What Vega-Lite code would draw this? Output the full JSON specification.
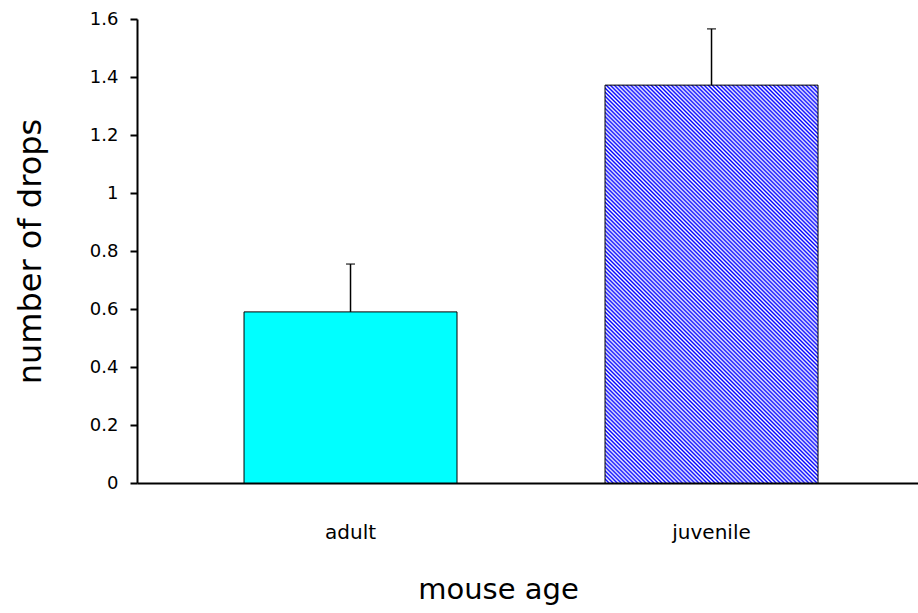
{
  "$schema": "https://vega.github.io/schema/vega-lite/v6.json",
  "width": 781,
  "height": 464,
  "autosize": {"type": "none"},
  "padding": {"left": 137, "top": 19, "right": 0, "bottom": 130},
  "background": "white",
  "config": {"view": {"stroke": null}, "font": "DejaVu Sans"},
  "data": {"values": [
    {"age": "adult", "mean": 0.59, "upper": 0.755},
    {"age": "juvenile", "mean": 1.372, "upper": 1.566}
  ]},
  "encoding": {
    "x": {
      "field": "age", "type": "nominal", "sort": null,
      "scale": {"paddingInner": 0.41, "paddingOuter": 0.2867, "align": 0.517},
      "axis": {
        "title": "mouse age", "labelAngle": 0, "ticks": false, "tickSize": 0,
        "labelPadding": 39, "labelFontSize": 20, "labelColor": "black",
        "titleFontSize": 29, "titleFontWeight": "normal", "titleColor": "black",
        "titlePadding": 33, "titleX": 361,
        "domainColor": "black", "domainWidth": 2, "grid": false
      }
    }
  },
  "layer": [
    {
      "mark": {"type": "bar", "stroke": "black", "strokeWidth": 1},
      "encoding": {
        "y": {
          "field": "mean", "type": "quantitative",
          "scale": {"domain": [0, 1.6], "nice": false},
          "axis": {
            "title": "number of drops",
            "values": [0, 0.2, 0.4, 0.6, 0.8, 1, 1.2, 1.4, 1.6],
            "format": "~g", "grid": false,
            "domainColor": "black", "domainWidth": 2,
            "tickColor": "black", "tickWidth": 2, "tickSize": 7,
            "labelPadding": 12, "labelFontSize": 18, "labelColor": "black",
            "titleFontSize": 32, "titleFontWeight": "normal", "titleColor": "black",
            "titlePadding": 42
          }
        },
        "fill": {
          "condition": {
            "test": "datum.age === 'juvenile'",
            "value": {
              "gradient": "linear", "x1": 0, "y1": 1, "x2": 0.6387, "y2": -0.1934,
              "stops": [
{"offset":0,"color":"#00f"},{"offset":0.0033,"color":"#fff"},{"offset":0.0067,"color":"#00f"},{"offset":0.01,"color":"#fff"},{"offset":0.0133,"color":"#00f"},{"offset":0.0167,"color":"#fff"},
{"offset":0.02,"color":"#00f"},{"offset":0.0233,"color":"#fff"},{"offset":0.0267,"color":"#00f"},{"offset":0.03,"color":"#fff"},{"offset":0.0333,"color":"#00f"},{"offset":0.0367,"color":"#fff"},
{"offset":0.04,"color":"#00f"},{"offset":0.0433,"color":"#fff"},{"offset":0.0467,"color":"#00f"},{"offset":0.05,"color":"#fff"},{"offset":0.0533,"color":"#00f"},{"offset":0.0567,"color":"#fff"},
{"offset":0.06,"color":"#00f"},{"offset":0.0633,"color":"#fff"},{"offset":0.0667,"color":"#00f"},{"offset":0.07,"color":"#fff"},{"offset":0.0733,"color":"#00f"},{"offset":0.0767,"color":"#fff"},
{"offset":0.08,"color":"#00f"},{"offset":0.0833,"color":"#fff"},{"offset":0.0867,"color":"#00f"},{"offset":0.09,"color":"#fff"},{"offset":0.0933,"color":"#00f"},{"offset":0.0967,"color":"#fff"},
{"offset":0.10,"color":"#00f"},{"offset":0.1033,"color":"#fff"},{"offset":0.1067,"color":"#00f"},{"offset":0.11,"color":"#fff"},{"offset":0.1133,"color":"#00f"},{"offset":0.1167,"color":"#fff"},
{"offset":0.12,"color":"#00f"},{"offset":0.1233,"color":"#fff"},{"offset":0.1267,"color":"#00f"},{"offset":0.13,"color":"#fff"},{"offset":0.1333,"color":"#00f"},{"offset":0.1367,"color":"#fff"},
{"offset":0.14,"color":"#00f"},{"offset":0.1433,"color":"#fff"},{"offset":0.1467,"color":"#00f"},{"offset":0.15,"color":"#fff"},{"offset":0.1533,"color":"#00f"},{"offset":0.1567,"color":"#fff"},
{"offset":0.16,"color":"#00f"},{"offset":0.1633,"color":"#fff"},{"offset":0.1667,"color":"#00f"},{"offset":0.17,"color":"#fff"},{"offset":0.1733,"color":"#00f"},{"offset":0.1767,"color":"#fff"},
{"offset":0.18,"color":"#00f"},{"offset":0.1833,"color":"#fff"},{"offset":0.1867,"color":"#00f"},{"offset":0.19,"color":"#fff"},{"offset":0.1933,"color":"#00f"},{"offset":0.1967,"color":"#fff"},
{"offset":0.20,"color":"#00f"},{"offset":0.2033,"color":"#fff"},{"offset":0.2067,"color":"#00f"},{"offset":0.21,"color":"#fff"},{"offset":0.2133,"color":"#00f"},{"offset":0.2167,"color":"#fff"},
{"offset":0.22,"color":"#00f"},{"offset":0.2233,"color":"#fff"},{"offset":0.2267,"color":"#00f"},{"offset":0.23,"color":"#fff"},{"offset":0.2333,"color":"#00f"},{"offset":0.2367,"color":"#fff"},
{"offset":0.24,"color":"#00f"},{"offset":0.2433,"color":"#fff"},{"offset":0.2467,"color":"#00f"},{"offset":0.25,"color":"#fff"},{"offset":0.2533,"color":"#00f"},{"offset":0.2567,"color":"#fff"},
{"offset":0.26,"color":"#00f"},{"offset":0.2633,"color":"#fff"},{"offset":0.2667,"color":"#00f"},{"offset":0.27,"color":"#fff"},{"offset":0.2733,"color":"#00f"},{"offset":0.2767,"color":"#fff"},
{"offset":0.28,"color":"#00f"},{"offset":0.2833,"color":"#fff"},{"offset":0.2867,"color":"#00f"},{"offset":0.29,"color":"#fff"},{"offset":0.2933,"color":"#00f"},{"offset":0.2967,"color":"#fff"},
{"offset":0.30,"color":"#00f"},{"offset":0.3033,"color":"#fff"},{"offset":0.3067,"color":"#00f"},{"offset":0.31,"color":"#fff"},{"offset":0.3133,"color":"#00f"},{"offset":0.3167,"color":"#fff"},
{"offset":0.32,"color":"#00f"},{"offset":0.3233,"color":"#fff"},{"offset":0.3267,"color":"#00f"},{"offset":0.33,"color":"#fff"},{"offset":0.3333,"color":"#00f"},{"offset":0.3367,"color":"#fff"},
{"offset":0.34,"color":"#00f"},{"offset":0.3433,"color":"#fff"},{"offset":0.3467,"color":"#00f"},{"offset":0.35,"color":"#fff"},{"offset":0.3533,"color":"#00f"},{"offset":0.3567,"color":"#fff"},
{"offset":0.36,"color":"#00f"},{"offset":0.3633,"color":"#fff"},{"offset":0.3667,"color":"#00f"},{"offset":0.37,"color":"#fff"},{"offset":0.3733,"color":"#00f"},{"offset":0.3767,"color":"#fff"},
{"offset":0.38,"color":"#00f"},{"offset":0.3833,"color":"#fff"},{"offset":0.3867,"color":"#00f"},{"offset":0.39,"color":"#fff"},{"offset":0.3933,"color":"#00f"},{"offset":0.3967,"color":"#fff"},
{"offset":0.40,"color":"#00f"},{"offset":0.4033,"color":"#fff"},{"offset":0.4067,"color":"#00f"},{"offset":0.41,"color":"#fff"},{"offset":0.4133,"color":"#00f"},{"offset":0.4167,"color":"#fff"},
{"offset":0.42,"color":"#00f"},{"offset":0.4233,"color":"#fff"},{"offset":0.4267,"color":"#00f"},{"offset":0.43,"color":"#fff"},{"offset":0.4333,"color":"#00f"},{"offset":0.4367,"color":"#fff"},
{"offset":0.44,"color":"#00f"},{"offset":0.4433,"color":"#fff"},{"offset":0.4467,"color":"#00f"},{"offset":0.45,"color":"#fff"},{"offset":0.4533,"color":"#00f"},{"offset":0.4567,"color":"#fff"},
{"offset":0.46,"color":"#00f"},{"offset":0.4633,"color":"#fff"},{"offset":0.4667,"color":"#00f"},{"offset":0.47,"color":"#fff"},{"offset":0.4733,"color":"#00f"},{"offset":0.4767,"color":"#fff"},
{"offset":0.48,"color":"#00f"},{"offset":0.4833,"color":"#fff"},{"offset":0.4867,"color":"#00f"},{"offset":0.49,"color":"#fff"},{"offset":0.4933,"color":"#00f"},{"offset":0.4967,"color":"#fff"},
{"offset":0.50,"color":"#00f"},{"offset":0.5033,"color":"#fff"},{"offset":0.5067,"color":"#00f"},{"offset":0.51,"color":"#fff"},{"offset":0.5133,"color":"#00f"},{"offset":0.5167,"color":"#fff"},
{"offset":0.52,"color":"#00f"},{"offset":0.5233,"color":"#fff"},{"offset":0.5267,"color":"#00f"},{"offset":0.53,"color":"#fff"},{"offset":0.5333,"color":"#00f"},{"offset":0.5367,"color":"#fff"},
{"offset":0.54,"color":"#00f"},{"offset":0.5433,"color":"#fff"},{"offset":0.5467,"color":"#00f"},{"offset":0.55,"color":"#fff"},{"offset":0.5533,"color":"#00f"},{"offset":0.5567,"color":"#fff"},
{"offset":0.56,"color":"#00f"},{"offset":0.5633,"color":"#fff"},{"offset":0.5667,"color":"#00f"},{"offset":0.57,"color":"#fff"},{"offset":0.5733,"color":"#00f"},{"offset":0.5767,"color":"#fff"},
{"offset":0.58,"color":"#00f"},{"offset":0.5833,"color":"#fff"},{"offset":0.5867,"color":"#00f"},{"offset":0.59,"color":"#fff"},{"offset":0.5933,"color":"#00f"},{"offset":0.5967,"color":"#fff"},
{"offset":0.60,"color":"#00f"},{"offset":0.6033,"color":"#fff"},{"offset":0.6067,"color":"#00f"},{"offset":0.61,"color":"#fff"},{"offset":0.6133,"color":"#00f"},{"offset":0.6167,"color":"#fff"},
{"offset":0.62,"color":"#00f"},{"offset":0.6233,"color":"#fff"},{"offset":0.6267,"color":"#00f"},{"offset":0.63,"color":"#fff"},{"offset":0.6333,"color":"#00f"},{"offset":0.6367,"color":"#fff"},
{"offset":0.64,"color":"#00f"},{"offset":0.6433,"color":"#fff"},{"offset":0.6467,"color":"#00f"},{"offset":0.65,"color":"#fff"},{"offset":0.6533,"color":"#00f"},{"offset":0.6567,"color":"#fff"},
{"offset":0.66,"color":"#00f"},{"offset":0.6633,"color":"#fff"},{"offset":0.6667,"color":"#00f"},{"offset":0.67,"color":"#fff"},{"offset":0.6733,"color":"#00f"},{"offset":0.6767,"color":"#fff"},
{"offset":0.68,"color":"#00f"},{"offset":0.6833,"color":"#fff"},{"offset":0.6867,"color":"#00f"},{"offset":0.69,"color":"#fff"},{"offset":0.6933,"color":"#00f"},{"offset":0.6967,"color":"#fff"},
{"offset":0.70,"color":"#00f"},{"offset":0.7033,"color":"#fff"},{"offset":0.7067,"color":"#00f"},{"offset":0.71,"color":"#fff"},{"offset":0.7133,"color":"#00f"},{"offset":0.7167,"color":"#fff"},
{"offset":0.72,"color":"#00f"},{"offset":0.7233,"color":"#fff"},{"offset":0.7267,"color":"#00f"},{"offset":0.73,"color":"#fff"},{"offset":0.7333,"color":"#00f"},{"offset":0.7367,"color":"#fff"},
{"offset":0.74,"color":"#00f"},{"offset":0.7433,"color":"#fff"},{"offset":0.7467,"color":"#00f"},{"offset":0.75,"color":"#fff"},{"offset":0.7533,"color":"#00f"},{"offset":0.7567,"color":"#fff"},
{"offset":0.76,"color":"#00f"},{"offset":0.7633,"color":"#fff"},{"offset":0.7667,"color":"#00f"},{"offset":0.77,"color":"#fff"},{"offset":0.7733,"color":"#00f"},{"offset":0.7767,"color":"#fff"},
{"offset":0.78,"color":"#00f"},{"offset":0.7833,"color":"#fff"},{"offset":0.7867,"color":"#00f"},{"offset":0.79,"color":"#fff"},{"offset":0.7933,"color":"#00f"},{"offset":0.7967,"color":"#fff"},
{"offset":0.80,"color":"#00f"},{"offset":0.8033,"color":"#fff"},{"offset":0.8067,"color":"#00f"},{"offset":0.81,"color":"#fff"},{"offset":0.8133,"color":"#00f"},{"offset":0.8167,"color":"#fff"},
{"offset":0.82,"color":"#00f"},{"offset":0.8233,"color":"#fff"},{"offset":0.8267,"color":"#00f"},{"offset":0.83,"color":"#fff"},{"offset":0.8333,"color":"#00f"},{"offset":0.8367,"color":"#fff"},
{"offset":0.84,"color":"#00f"},{"offset":0.8433,"color":"#fff"},{"offset":0.8467,"color":"#00f"},{"offset":0.85,"color":"#fff"},{"offset":0.8533,"color":"#00f"},{"offset":0.8567,"color":"#fff"},
{"offset":0.86,"color":"#00f"},{"offset":0.8633,"color":"#fff"},{"offset":0.8667,"color":"#00f"},{"offset":0.87,"color":"#fff"},{"offset":0.8733,"color":"#00f"},{"offset":0.8767,"color":"#fff"},
{"offset":0.88,"color":"#00f"},{"offset":0.8833,"color":"#fff"},{"offset":0.8867,"color":"#00f"},{"offset":0.89,"color":"#fff"},{"offset":0.8933,"color":"#00f"},{"offset":0.8967,"color":"#fff"},
{"offset":0.90,"color":"#00f"},{"offset":0.9033,"color":"#fff"},{"offset":0.9067,"color":"#00f"},{"offset":0.91,"color":"#fff"},{"offset":0.9133,"color":"#00f"},{"offset":0.9167,"color":"#fff"},
{"offset":0.92,"color":"#00f"},{"offset":0.9233,"color":"#fff"},{"offset":0.9267,"color":"#00f"},{"offset":0.93,"color":"#fff"},{"offset":0.9333,"color":"#00f"},{"offset":0.9367,"color":"#fff"},
{"offset":0.94,"color":"#00f"},{"offset":0.9433,"color":"#fff"},{"offset":0.9467,"color":"#00f"},{"offset":0.95,"color":"#fff"},{"offset":0.9533,"color":"#00f"},{"offset":0.9567,"color":"#fff"},
{"offset":0.96,"color":"#00f"},{"offset":0.9633,"color":"#fff"},{"offset":0.9667,"color":"#00f"},{"offset":0.97,"color":"#fff"},{"offset":0.9733,"color":"#00f"},{"offset":0.9767,"color":"#fff"},
{"offset":0.98,"color":"#00f"},{"offset":0.9833,"color":"#fff"},{"offset":0.9867,"color":"#00f"},{"offset":0.99,"color":"#fff"},{"offset":0.9933,"color":"#00f"},{"offset":0.9967,"color":"#fff"},
{"offset":1,"color":"#00f"}
              ]
            }
          },
          "value": "#00ffff"
        }
      }
    },
    {
      "mark": {"type": "rule", "color": "black", "strokeWidth": 1.5},
      "encoding": {
        "y": {"field": "mean", "type": "quantitative"},
        "y2": {"field": "upper"}
      }
    },
    {
      "mark": {"type": "tick", "color": "black", "thickness": 1.5, "size": 9},
      "encoding": {
        "y": {"field": "upper", "type": "quantitative"}
      }
    }
  ]
}
